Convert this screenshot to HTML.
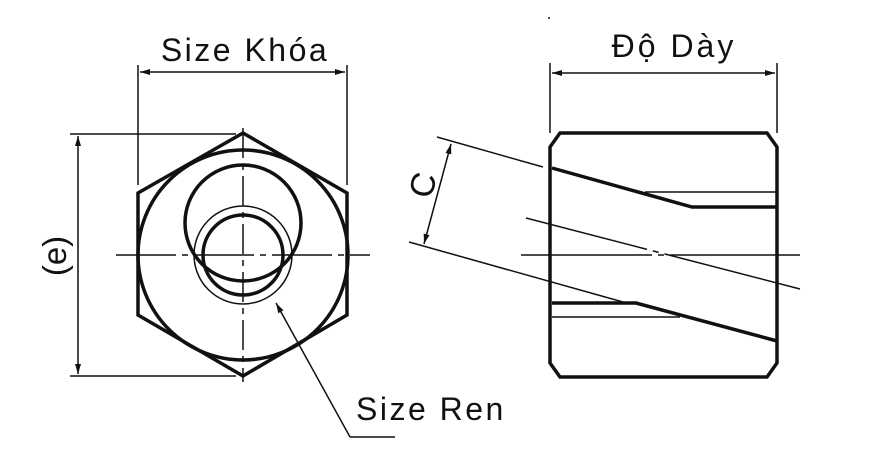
<!DOCTYPE html>
<html><head><meta charset="utf-8"><style>body{margin:0;background:#fff}svg{display:block}</style></head><body>
<svg width="885" height="462" viewBox="0 0 885 462" xmlns="http://www.w3.org/2000/svg">
<defs>
<marker id="b" viewBox="0 0 10 10" refX="10" refY="5" markerWidth="16" markerHeight="10" markerUnits="userSpaceOnUse" orient="auto-start-reverse"><path d="M0,2 L10,5 L0,8 z" fill="#111"/></marker>
</defs>
<g stroke="#111" fill="none">
<polygon points="243,133 347,193 347,315 243,376 138,315 138,193" stroke-width="3.5"/>
<circle cx="243" cy="255" r="105" stroke-width="3.5"/>
<circle cx="243" cy="223" r="58" stroke-width="3.5"/>
<circle cx="243" cy="255" r="49" stroke-width="1.5"/>
<circle cx="243" cy="255" r="40" stroke-width="3.5"/>
<line x1="116" y1="255" x2="370" y2="255" stroke-width="1.5" stroke-dasharray="60,6,6,6"/>
<line x1="243" y1="128" x2="243" y2="382" stroke-width="1.5" stroke-dasharray="30,6,6,6"/>
<line x1="70" y1="134" x2="236" y2="134" stroke-width="1.5"/>
<line x1="70" y1="376" x2="236" y2="376" stroke-width="1.5"/>
<line x1="78" y1="136" x2="78" y2="374" stroke-width="1.5" marker-start="url(#b)" marker-end="url(#b)"/>
<line x1="138" y1="65" x2="138" y2="185" stroke-width="1.5"/>
<line x1="347" y1="65" x2="347" y2="185" stroke-width="1.5"/>
<line x1="140" y1="72" x2="345" y2="72" stroke-width="1.5" marker-start="url(#b)" marker-end="url(#b)"/>
<line x1="350" y1="437" x2="276" y2="303" stroke-width="1.5" marker-end="url(#b)"/>
<line x1="350" y1="437" x2="395" y2="437" stroke-width="1.5"/>
<path d="M560,133 L767,133 L777,147 L777,363 L767,377 L560,377 L550,363 L550,147 Z" stroke-width="3.5"/>
<polyline points="552,168 692,207 777,207" stroke-width="3.5"/>
<line x1="645" y1="192" x2="777" y2="192" stroke-width="1.5"/>
<polyline points="552,303 636,303 777,341" stroke-width="3.5"/>
<line x1="552" y1="317" x2="680" y2="317" stroke-width="1.5"/>
<line x1="409" y1="242" x2="623" y2="302" stroke-width="1.5"/>
<line x1="437" y1="137" x2="543" y2="167" stroke-width="1.5"/>
<line x1="526" y1="218" x2="800" y2="289" stroke-width="1.5" stroke-dasharray="125,6,6,6,300"/>
<line x1="521" y1="255" x2="800" y2="255" stroke-width="1.5" stroke-dasharray="131,6,6,6,300"/>
<line x1="451" y1="144" x2="424" y2="244" stroke-width="1.5" marker-start="url(#b)" marker-end="url(#b)"/>
<line x1="550" y1="63" x2="550" y2="133" stroke-width="1.5"/>
<line x1="777" y1="63" x2="777" y2="133" stroke-width="1.5"/>
<line x1="552" y1="73" x2="775" y2="73" stroke-width="1.5" marker-start="url(#b)" marker-end="url(#b)"/>
</g>
<circle cx="549" cy="18" r="1" fill="#111"/>
<g font-family="Liberation Sans, DejaVu Sans, sans-serif" font-size="32" fill="#111">
<text x="245" y="61" text-anchor="middle" letter-spacing="2.5">Size Khóa</text>
<text x="674" y="57" text-anchor="middle" letter-spacing="3">Độ Dày</text>
<text x="356" y="420" letter-spacing="2.5">Size Ren</text>
<text transform="translate(66,256) rotate(-90)" text-anchor="middle" font-size="33">(e)</text>
<text transform="translate(434,188) rotate(-75)" text-anchor="middle" font-size="34">C</text>
</g>
</svg>
</body></html>
